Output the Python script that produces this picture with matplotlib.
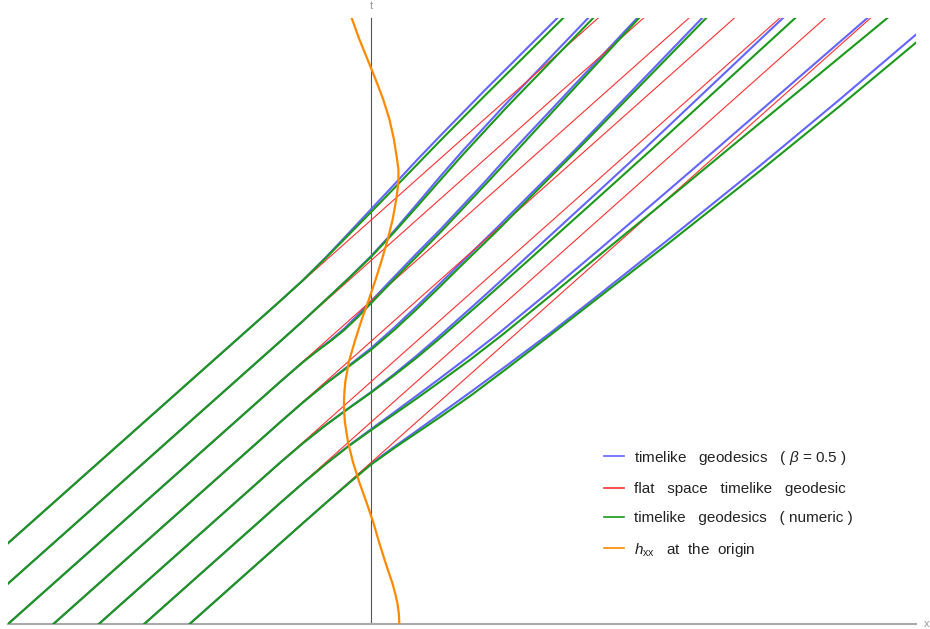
import matplotlib
matplotlib.use("Agg")
import matplotlib.pyplot as plt
from matplotlib.lines import Line2D

plt.rcParams['font.family'] = ['Liberation Sans', 'DejaVu Sans']
plt.rcParams['mathtext.fontset'] = 'custom'
plt.rcParams['mathtext.rm'] = 'Liberation Sans'
plt.rcParams['mathtext.it'] = 'Liberation Sans:italic'

# ---------------- data (x, t) ----------------
# flat space timelike geodesics: x = x0 + v t
flat_x0 = [-10, -9, -8, -7, -6, -5, -4]
flat_v = 0.5
t_max = 30.0

# timelike geodesics (beta = 0.5)
blue_A_x = [-10, -2.0, -1.5, -1.0, -0.5, 0.0, 0.5, 1.0, 1.5, 2.5, 4.10]
blue_A_t = [0, 16.0, 17.03, 18.15, 19.34, 20.54, 21.74, 22.95, 24.12, 26.42, 30.0]
blue_B_x = [-9, -2.0, -1.5, -1.0, -0.5, 0.0, 0.5, 1.0, 1.5, 2.0, 3.0, 4.78]
blue_B_t = [0, 14.0, 15.01, 16.05, 17.11, 18.22, 19.45, 20.77, 22.10, 23.39, 25.83, 30.0]
blue_C_x = [-8, -2.0, -1.5, -1.2, -0.9, -0.6, -0.3, 0.0, 0.5, 1.0, 1.52, 2.5, 3.13, 5.86]
blue_C_t = [0, 12.0, 12.98, 13.52, 14.04, 14.61, 15.28, 15.99, 17.17, 18.34, 19.52, 21.88, 23.46, 30.0]
blue_D_x = [-7, -2.0, -1.5, -1.0, -0.5, 0.0, 0.5, 1.0, 1.5, 2.0, 2.78, 3.5, 4.49, 7.29]
blue_D_t = [0, 10.0, 10.98, 11.91, 12.78, 13.66, 14.66, 15.72, 16.82, 17.93, 19.64, 21.26, 23.47, 30.0]
blue_E_x = [-6, -2.0, -1.5, -1.0, -0.5, 0.0, 0.5, 1.0, 1.5, 2.5, 3.5, 5.04, 5.99, 9.07]
blue_E_t = [0, 8.0, 8.96, 9.85, 10.68, 11.49, 12.36, 13.28, 14.25, 16.26, 18.32, 21.49, 23.46, 30.0]
blue_F_x = [-5, -2.0, -1.5, -1.0, -0.5, 0.0, 0.5, 1.0, 1.52, 2.2, 2.78, 4.0, 5.04, 6.5, 7.58, 10.93]
blue_F_t = [0, 6.0, 6.98, 7.93, 8.82, 9.65, 10.47, 11.30, 12.17, 13.33, 14.34, 16.60, 18.57, 21.38, 23.47, 30.0]
blue_G_x = [-4, -2.0, -1.5, -1.0, -0.5, 0.0, 0.5, 1.0, 1.52, 2.2, 3.0, 3.94, 5.04, 6.5, 8.57, 10.3, 12.0]
blue_G_t = [0, 4.0, 5.0, 5.99, 6.97, 7.94, 8.76, 9.56, 10.40, 11.50, 12.82, 14.40, 16.34, 18.95, 22.70, 25.93, 29.18]

# timelike geodesics (numeric)
green_A_x = [-10, -2.0, -1.5, -1.0, -0.5, 0.0, 0.5, 1.0, 1.5, 2.5, 4.23]
green_A_t = [0, 16.0, 17.02, 18.12, 19.26, 20.40, 21.56, 22.72, 23.88, 26.15, 30.0]
green_B_x = [-9, -2.0, -1.5, -1.0, -0.5, 0.0, 0.5, 1.0, 1.5, 2.0, 3.0, 4.89]
green_B_t = [0, 14.0, 15.01, 16.05, 17.10, 18.18, 19.38, 20.64, 21.92, 23.19, 25.62, 30.0]
green_C_x = [-8, -2.0, -1.5, -1.2, -0.9, -0.6, -0.3, 0.0, 0.5, 1.0, 1.52, 2.5, 3.22, 5.90]
green_C_t = [0, 12.0, 12.97, 13.50, 14.0, 14.54, 15.18, 15.89, 17.05, 18.19, 19.38, 21.72, 23.47, 30.0]
green_D_x = [-7, -2.0, -1.5, -1.0, -0.5, 0.0, 0.5, 1.0, 1.5, 2.0, 2.78, 3.5, 4.54, 7.38]
green_D_t = [0, 10.0, 10.98, 11.90, 12.74, 13.58, 14.54, 15.58, 16.67, 17.78, 19.48, 21.12, 23.47, 30.0]
green_E_x = [-6, -2.0, -1.5, -1.0, -0.5, 0.0, 0.5, 1.0, 1.5, 2.5, 3.5, 5.04, 6.19, 9.34]
green_E_t = [0, 8.0, 8.96, 9.85, 10.67, 11.46, 12.30, 13.18, 14.12, 16.08, 18.08, 21.19, 23.52, 30.0]
green_F_x = [-5, -2.0, -1.5, -1.0, -0.5, 0.0, 0.5, 1.0, 1.52, 2.2, 2.89, 4.0, 5.04, 6.5, 7.84, 11.37]
green_F_t = [0, 6.0, 6.98, 7.92, 8.80, 9.60, 10.38, 11.16, 12.0, 13.12, 14.32, 16.35, 18.28, 20.97, 23.46, 30.0]
green_G_x = [-4, -2.0, -1.5, -1.0, -0.5, 0.0, 0.5, 1.0, 1.52, 2.2, 3.0, 3.99, 5.04, 6.5, 8.57, 10.3, 12.0]
green_G_t = [0, 4.0, 5.0, 5.99, 6.96, 7.90, 8.70, 9.46, 10.25, 11.32, 12.67, 14.38, 16.22, 18.76, 22.44, 25.60, 28.78]

# h_xx at the origin (drawn as x offset against t)
hxx_t = [0, 0.5, 1, 1.5, 2, 3, 4, 5, 6, 7, 8, 9, 10, 10.5, 11, 11.5, 12, 13, 14, 15,
         16, 17, 18, 19, 20, 21, 21.5, 22, 22.5, 23, 24, 25, 26, 27, 28, 29, 30]
hxx_x = [0.62, 0.61, 0.58, 0.53, 0.47, 0.32, 0.18, 0.05, -0.10, -0.26, -0.40, -0.51, -0.58, -0.595, -0.60, -0.59, -0.57, -0.49, -0.36, -0.22,
         -0.06, 0.09, 0.23, 0.36, 0.47, 0.55, 0.58, 0.60, 0.60, 0.57, 0.50, 0.40, 0.26, 0.09, -0.09, -0.27, -0.43]

blue_curves = [(blue_A_x, blue_A_t), (blue_B_x, blue_B_t), (blue_C_x, blue_C_t),
               (blue_D_x, blue_D_t), (blue_E_x, blue_E_t), (blue_F_x, blue_F_t),
               (blue_G_x, blue_G_t)]
green_curves = [(green_A_x, green_A_t), (green_B_x, green_B_t), (green_C_x, green_C_t),
                (green_D_x, green_D_t), (green_E_x, green_E_t), (green_F_x, green_F_t),
                (green_G_x, green_G_t)]

legend_labels = [r"timelike   geodesics   ( $\beta$ = 0.5 )",
                 "flat   space   timelike   geodesic",
                 "timelike   geodesics   ( numeric )",
                 r"$h_{\rm xx}$   at  the  origin"]

# ---------------- styles ----------------
c_blue = '#6464ff'
c_red = '#ff3030'
c_green = '#1a991a'
c_orange = '#ff8a00'

fig = plt.figure(figsize=(9.30, 6.29), dpi=100)
ax = fig.add_axes([8/930, 5/629, 908/930, 606/629])
ax.set_xlim(-8.0, 12.0)
ax.set_ylim(0, 30.0)
ax.axis('off')

for x, t in blue_curves:
    ax.plot(x, t, color=c_blue, lw=1.5, solid_joinstyle='round', zorder=2)
for x0 in flat_x0:
    ax.plot([x0, x0 + flat_v * t_max], [0, t_max], color=c_red, lw=0.8, zorder=3)
for x, t in green_curves:
    ax.plot(x, t, color=c_green, lw=1.5, solid_joinstyle='round', zorder=4)
ax.plot(hxx_x, hxx_t, color=c_orange, lw=1.6, solid_joinstyle='round', zorder=5)

# axes
ax.plot([0, 0], [0, 30], color='#555555', lw=0.8, zorder=1, clip_on=False)
ax.plot([-8, 12], [0, 0], color='#aaaaaa', lw=1.5, zorder=1, clip_on=False)
fig.text(371/930, 1-6/629, 't', color='#999999', fontsize=8, ha='center', va='center')
fig.text(927/930, 1-624/629, 'x', color='#999999', fontsize=8, ha='center', va='center')

handles = [Line2D([], [], color=c_blue, lw=1.2),
           Line2D([], [], color=c_red, lw=1.2),
           Line2D([], [], color=c_green, lw=1.2),
           Line2D([], [], color=c_orange, lw=1.2)]
fig.legend(handles, legend_labels, loc='upper left',
           bbox_to_anchor=(590/930, 1-435/629), frameon=False,
           fontsize=11, handlelength=1.3, handletextpad=0.65, labelspacing=1.0,
           labelcolor='#222222')

fig.savefig('out.png', dpi=100)
